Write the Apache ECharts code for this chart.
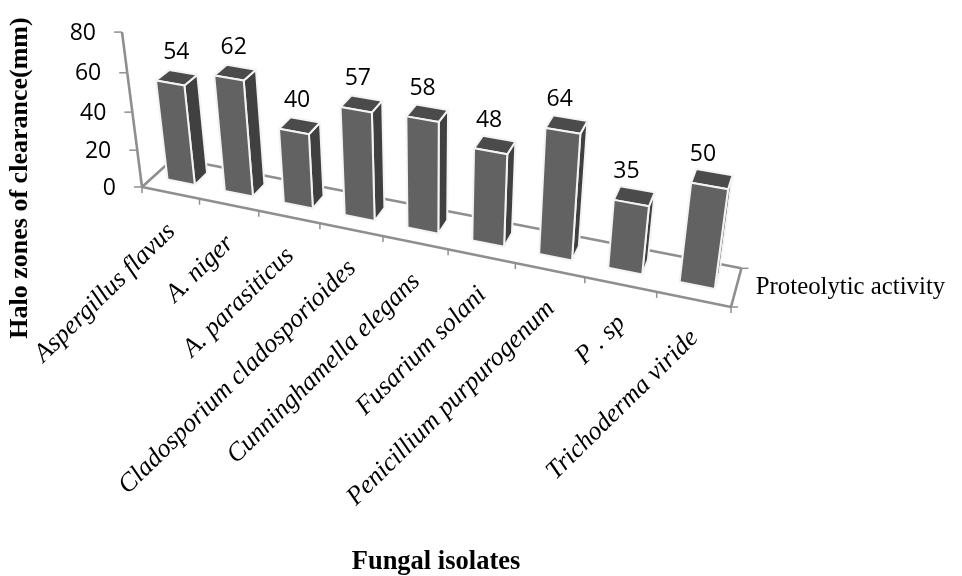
<!DOCTYPE html>
<html><head><meta charset="utf-8">
<style>html,body{margin:0;padding:0;background:#fff}#c{width:962px;height:576px}</style>
<script src="https://cdn.jsdelivr.net/npm/echarts@6/dist/echarts.min.js"></script>
</head><body><div id="c"></div>
<script>
const categories = ["Aspergillus flavus","A. niger","A. parasiticus","Cladosporium cladosporioides","Cunninghamella elegans","Fusarium solani","Penicillium purpurogenum","P . sp","Trichoderma viride"];
const values = [54,62,40,57,58,48,64,35,50];
const yTicks = [0,20,40,60,80];
const yName = "Halo zones of clearance(mm)";
const xName = "Fungal isolates";
const zName = "Proteolytic activity";

const GW = 900, GH = 480, BAND = GW / categories.length;
function project(u, V, d) {
  const w = 1 - 0.01493 * u - 0.0649 * V + 0.0406 * d;
  return [(142 + 54.53 * u - 27.9 * V + 39.1 * d) / w, (187 + 8.75 * u - 157 * V - 22.6 * d) / w];
}
const toP = (pt, du, d, k) => project(pt[0] / BAND + du, (GH - pt[1]) / GH * (k || 1), d);

const GREY = '#8f8f8f';
const poly = (points, fill) => ({type:'polygon', shape:{points}, style:{fill, stroke:'#f4f4f4', lineWidth:2, lineJoin:'round'}});
const seg = (a, b, w) => ({type:'line', shape:{x1:a[0],y1:a[1],x2:b[0],y2:b[1]}, style:{stroke:GREY, lineWidth:w||2.6, fill:null}});

function renderFloor(params, api) {
  const o = api.coord([0, 0]), e = api.coord([categories.length - 1, 0]);
  const a = toP(o, -0.5, 0), b = toP(e, 0.5, 0), c = toP(e, 0.5, 1), d = toP(o, -0.5, 1);
  return {type:'group', children:[
    seg(a, d), seg(d, c), seg(c, b), seg(b, a),
    seg(c, [c[0] + 7, c[1]], 1.5), seg(b, [b[0] + 7, b[1]], 1.5), seg(b, [b[0], b[1] + 6], 1.5)
  ]};
}
function renderY(params, api) {
  const v = api.value(1), pt = api.coord([0, v]);
  const p = toP(pt, -0.5, 0), next = toP(api.coord([0, v + 20 > 80 ? v : v + 20]), -0.5, 0);
  const kids = [seg([p[0] - 8, p[1]], p, 1.5),
    {type:'text', x:p[0] - 26, y:p[1] + 1, style:{text:String(v), align:'right', verticalAlign:'middle', font:'23px "Open Sans"', fill:'#000'}}];
  if (v < 80) kids.push(seg(p, next));
  return {type:'group', children:kids};
}
function renderX(params, api) {
  const i = api.value(0), pt = api.coord([i, 0]);
  const l = toP(pt, -0.5, 0), mid = toP(pt, 0, 0);
  return {type:'group', children:[
    seg(l, [l[0], l[1] + 6], 1.5),
    {type:'text', x:mid[0] + 1, y:mid[1] + 35, rotation:44.5 * Math.PI / 180,
     style:{text:categories[i], align:'right', verticalAlign:'middle', font:'italic 26px "Liberation Serif"', fill:'#000'}}
  ]};
}
function renderBar(params, api) {
  const i = api.value(0), v = api.value(1);
  const b = api.coord([i, 0]), t = api.coord([i, v]);
  const ul = -0.25, ur = 0.23, d0 = 0.35, d1 = 0.75, k = 0.975;
  const bl = toP(b, ul, d0), br = toP(b, ur, d0), bk = toP(b, ur, d1);
  const tl = toP(t, ul, d0, k), tr = toP(t, ur, d0, k), trk = toP(t, ur, d1, k), tlk = toP(t, ul, d1, k);
  const c = toP(t, 0, 0.55, k);
  return {type:'group', children:[
    poly([br, bk, trk, tr], '#404040'),
    poly([tl, tr, trk, tlk], '#4b4b4b'),
    poly([bl, br, tr, tl], '#626262'),
    {type:'text', x:c[0] - 1 - 1.1 * i, y:c[1] - 25, style:{text:String(v), align:'center', verticalAlign:'middle', font:'23px "Open Sans"', fill:'#000'}}
  ]};
}
const chart = echarts.init(document.getElementById('c'), null, {renderer:'canvas'});
const idx = categories.map((_, i) => i);
const txt = (x, y, text, font, rotation) => ({type:'text', x, y, rotation:rotation || 0, style:{text, align:'center', verticalAlign:'middle', font, fill:'#000'}});
chart.setOption({
  animation:false,
  backgroundColor:'#fff',
  grid:{left:0, top:0, width:GW, height:GH, show:false},
  xAxis:{type:'category', data:categories, show:false},
  yAxis:{type:'value', min:0, max:80, interval:20, show:false},
  graphic:[
    txt(20, 178, yName, 'bold 26px "Liberation Serif"', Math.PI / 2),
    txt(436, 562, xName, 'bold 26.5px "Liberation Serif"'),
    txt(850.5, 287, zName, '24.8px "Liberation Serif"')
  ],
  series:[
    {type:'custom', name:'floor', clip:false, z:1, silent:true, data:[[0,0]], renderItem:renderFloor},
    {type:'custom', name:'valueAxis', clip:false, z:2, silent:true, data:yTicks.map(v => [0, v]), encode:{x:0,y:1}, renderItem:renderY},
    {type:'custom', name:'categoryAxis', clip:false, z:2, silent:true, data:idx.map(i => [i, 0]), encode:{x:0,y:1}, renderItem:renderX},
    {type:'custom', name:'Proteolytic activity', clip:false, z:3, silent:true, data:values.map((v, i) => [i, v]), encode:{x:0,y:1}, renderItem:renderBar}
  ]
});
</script></body></html>
